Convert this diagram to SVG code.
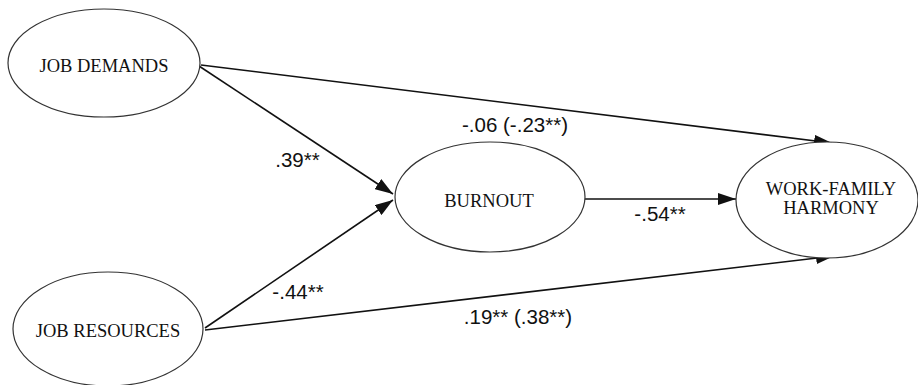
<svg xmlns="http://www.w3.org/2000/svg" width="918" height="385" viewBox="0 0 918 385">
<style>
.node ellipse{fill:#fff;stroke:#333;stroke-width:1.2}
.nt{font-family:"Liberation Serif",serif;font-size:18.5px;fill:#111;text-anchor:middle}
.lbl{font-family:"Liberation Sans",Arial,sans-serif;font-size:20.5px;fill:#111;text-anchor:middle}
.edge{stroke:#111;stroke-width:1.6;fill:none;marker-end:url(#ah)}
</style>
<defs>
<marker id="ah" markerWidth="18" markerHeight="12" refX="18" refY="6" orient="auto" markerUnits="userSpaceOnUse">
<path d="M0,0 L18,6 L0,12 Z" fill="#111"/>
</marker>
</defs>
<g id="connectors">
<line class="edge" x1="201" y1="65" x2="832" y2="143"/>
<line class="edge" x1="199" y1="66" x2="393" y2="194"/>
<line class="edge" x1="205" y1="328" x2="393" y2="200"/>
<line class="edge" x1="205" y1="330" x2="834" y2="256"/>
<line class="edge" x1="585" y1="199" x2="736" y2="199"/>
</g>
<g id="labels">
<text class="lbl" x="297.5" y="167">.39**</text>
<text class="lbl" x="515" y="132">-.06 (-.23**)</text>
<text class="lbl" x="660" y="221">-.54**</text>
<text class="lbl" x="298" y="299">-.44**</text>
<text class="lbl" x="518" y="324">.19** (.38**)</text>
</g>
<g id="job-demands" class="node">
<ellipse cx="104" cy="63" rx="96" ry="54"/>
<text class="nt" x="104" y="72">JOB DEMANDS</text>
</g>
<g id="job-resources" class="node">
<ellipse cx="108" cy="329" rx="95" ry="57"/>
<text class="nt" x="108" y="337">JOB RESOURCES</text>
</g>
<g id="burnout" class="node">
<ellipse cx="490" cy="197" rx="95" ry="55"/>
<text class="nt" x="489" y="207">BURNOUT</text>
</g>
<g id="work-family-harmony" class="node">
<ellipse cx="827" cy="200" rx="91" ry="58"/>
<text class="nt" x="831" y="195">WORK-FAMILY</text>
<text class="nt" x="831" y="214">HARMONY</text>
</g>
</svg>
